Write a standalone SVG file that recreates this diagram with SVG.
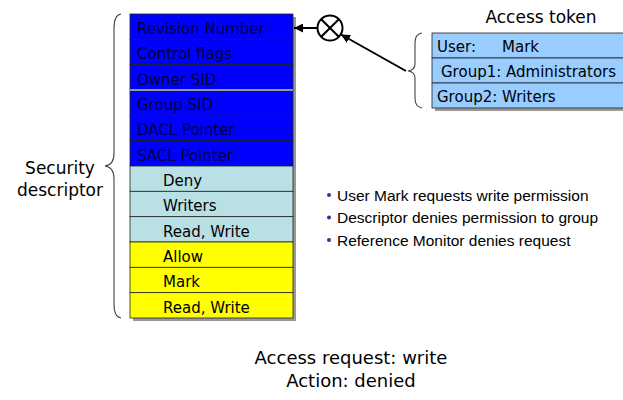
<svg xmlns="http://www.w3.org/2000/svg" width="623" height="400" viewBox="0 0 623 400">
<style>
text{font-family:"DejaVu Sans","Verdana",sans-serif;font-size:15px;fill:#000}
.dk{fill:#00003a}
.row{stroke:#222;stroke-width:0.8}
.blue{fill:#0000ff}
.cyan{fill:#b9e0e4}
.yel{fill:#ffff00}
.tok{fill:#99ccff;stroke:#222;stroke-width:0.8}
.brace{fill:none;stroke:#444;stroke-width:1.1}
.bul{font-family:"Liberation Sans",Arial,sans-serif;font-size:15.5px}
.dot{fill:#333399}
.big{font-size:17px}
.bot{font-size:18px}
</style>
<defs>
<marker id="ah" viewBox="0 0 10 10" refX="10" refY="5" markerWidth="9" markerHeight="9" markerUnits="userSpaceOnUse" orient="auto">
<path d="M0,0 L10,5 L0,10 z" fill="#000"/>
</marker>
</defs>
<rect width="623" height="400" fill="#fff"/>

<g id="security-descriptor">
<rect x="133" y="17" width="163" height="304" fill="#999"/>
<rect class="blue row" x="130" y="14" width="163" height="25.33"/>
<text class="dk" x="137" y="34">Revision Number</text>
<rect class="blue row" x="130" y="39.33" width="163" height="25.33"/>
<text class="dk" x="137" y="59.3">Control flags</text>
<rect class="blue row" x="130" y="64.67" width="163" height="25.33"/>
<text class="dk" x="137" y="84.7">Owner SID</text>
<rect class="blue row" x="130" y="90" width="163" height="25.33"/>
<text class="dk" x="137" y="110">Group SID</text>
<rect class="blue row" x="130" y="115.33" width="163" height="25.33"/>
<text class="dk" x="137" y="135.3">DACL Pointer</text>
<rect class="blue row" x="130" y="140.67" width="163" height="25.33"/>
<text class="dk" x="137" y="160.7">SACL Pointer</text>
<line x1="130" y1="90" x2="293" y2="90" stroke="#999" stroke-width="2"/>
<rect class="cyan row" x="130" y="166" width="163" height="25.33"/>
<text x="163" y="186">Deny</text>
<rect class="cyan row" x="130" y="191.33" width="163" height="25.33"/>
<text x="163" y="211.3">Writers</text>
<rect class="cyan row" x="130" y="216.67" width="163" height="25.33"/>
<text x="163" y="236.7">Read, Write</text>
<rect class="yel row" x="130" y="242" width="163" height="25.33"/>
<text x="163" y="262">Allow</text>
<rect class="yel row" x="130" y="267.33" width="163" height="25.33"/>
<text x="163" y="287.3">Mark</text>
<rect class="yel row" x="130" y="292.67" width="163" height="25.33"/>
<text x="163" y="312.7">Read, Write</text>
</g>

<g id="sd-label">
<path class="brace" d="M121,14 Q114,15 114,28 L114,153 Q114,165 105,166 Q114,167 114,179 L114,304 Q114,317 121,318"/>
<text class="big" x="60" y="174" text-anchor="middle">Security</text>
<text class="big" x="60" y="196" text-anchor="middle">descriptor</text>
</g>

<g id="access-token">
<text class="big" x="541" y="23" text-anchor="middle">Access token</text>
<rect x="435" y="36" width="200" height="75" fill="#999"/>
<rect class="tok" x="432" y="33" width="200" height="25"/>
<text x="437" y="52">User:</text>
<text x="502" y="52">Mark</text>
<rect class="tok" x="432" y="58" width="200" height="25"/>
<text x="441" y="77">Group1: Administrators</text>
<rect class="tok" x="432" y="83" width="200" height="25"/>
<text x="437" y="102">Group2: Writers</text>
<path class="brace" d="M422,33 Q415,34 415,43 L415,64 Q415,70 408,71 Q415,72 415,78 L415,98 Q415,107 422,108"/>
</g>

<g id="monitor">
<circle cx="330" cy="28" r="12.5" fill="#fff" stroke="#000" stroke-width="2"/>
<line x1="321.2" y1="19.2" x2="338.8" y2="36.8" stroke="#000" stroke-width="2"/>
<line x1="338.8" y1="19.2" x2="321.2" y2="36.8" stroke="#000" stroke-width="2"/>
</g>

<g id="connectors" stroke="#000" stroke-width="2" fill="none">
<line x1="317.5" y1="28" x2="294" y2="28" marker-end="url(#ah)"/>
<line x1="406" y1="71" x2="341" y2="34.5" marker-end="url(#ah)"/>
</g>

<g id="notes">
<circle class="dot" cx="329" cy="195" r="2"/>
<text class="bul" x="337" y="200.5">User Mark requests write permission</text>
<circle class="dot" cx="329" cy="217.5" r="2"/>
<text class="bul" x="337" y="223">Descriptor denies permission to group</text>
<circle class="dot" cx="329" cy="240" r="2"/>
<text class="bul" x="337" y="245.5">Reference Monitor denies request</text>
<text class="bot" x="351" y="364" text-anchor="middle">Access request: write</text>
<text class="bot" x="351" y="387" text-anchor="middle">Action: denied</text>
</g>
</svg>
